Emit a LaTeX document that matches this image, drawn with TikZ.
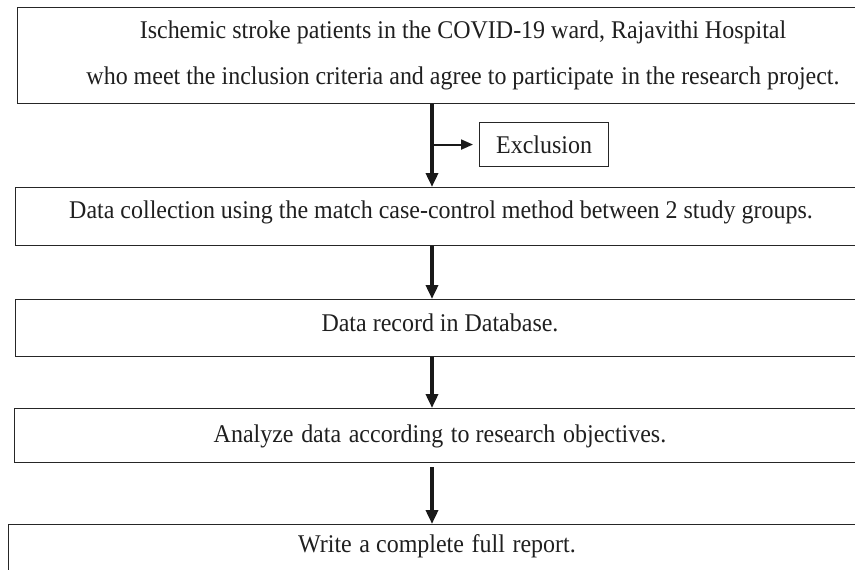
\documentclass[tikz,border=0pt]{standalone}
\usepackage{fontspec}
\setmainfont[FakeStretch=0.94]{Liberation Serif}
\usetikzlibrary{arrows.meta}
\newcommand{\xsp}{\hspace{0.3em}}
\begin{document}
\begin{tikzpicture}[x=1pt,y=-1pt,
  box/.style={draw=black!85, line width=1.1pt, inner sep=0pt, anchor=north west},
  lbl/.style={font=\fontsize{25.5}{46}\selectfont, text=black!88, inner sep=0pt, align=center},
  flow/.style={draw=black!90, line width=3.6pt, -{Triangle[length=14pt,width=12pt]}},
  side/.style={draw=black!90, line width=2pt, -{Triangle[length=12pt,width=10pt]}}]
\useasboundingbox (0,0) rectangle (855,570);
\clip (0,0) rectangle (855,570);
% boxes
\node[box, minimum width=900, minimum height=96] (b1) at (17,7) {};
\node[box, minimum width=860, minimum height=58] (b2) at (15,187) {};
\node[box, minimum width=860, minimum height=57] (b3) at (15,299) {};
\node[box, minimum width=860, minimum height=54] (b4) at (14,408) {};
\node[box, minimum width=870, minimum height=80] (b5) at (8,524) {};
\node[box, minimum width=129, minimum height=44] (ex) at (479,122) {};
% texts
\node[lbl] (t1) at (463,55) {Ischemic stroke patients in the COVID-19 ward, Rajavithi Hospital\\who meet the inclusion criteria and agree to participate\xsp in the research project.};
\node[lbl] (t2) at (441,212) {Data collection using the match case-control method between 2 study groups.};
\node[lbl] (t3) at (440,323) {Data record in Database.};
\node[lbl] (t4) at (440,436) {Analyze\xsp data\xsp according\xsp to research\xsp objectives.};
\node[lbl] (t5) at (437,546) {Write\xsp a complete\xsp full\xsp report.};
\node[lbl] (tex) at (ex.center) {Exclusion};
% connectors
\coordinate (ax) at (432,0);
\draw[flow] (ax |- b1.south) -- (ax |- b2.north);
\draw[flow] (ax |- b2.south) -- (ax |- b3.north);
\draw[flow] (ax |- b3.south) -- (ax |- b4.north);
\draw[flow] ([yshift=-4pt]ax |- b4.south) -- (ax |- b5.north);
\draw[side] ([xshift=1pt]ax |- ex.west) -- ([xshift=-6pt]ex.west);
\end{tikzpicture}
\end{document}
